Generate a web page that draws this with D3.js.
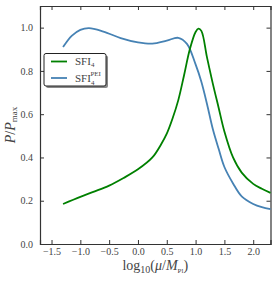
<!DOCTYPE html>
<html>
<head>
<meta charset="utf-8">
<script src="https://cdn.jsdelivr.net/npm/d3@7"></script>
<style>
  body { margin: 0; background: #fff; }
  text { font-family: "Liberation Serif", "DejaVu Serif", serif; fill: #444; }
</style>
</head>
<body>
<div id="chart"></div>
<script>
// curve values
const sfiX = [-1.3, -1.0, -0.75, -0.5, -0.25, 0.0, 0.25, 0.4, 0.5, 0.6, 0.7, 0.8, 0.9, 1.0, 1.05, 1.1, 1.2, 1.3, 1.4, 1.5, 1.65, 1.8, 2.0, 2.15, 2.3];
const sfiY = [0.185, 0.218, 0.243, 0.27, 0.305, 0.345, 0.40, 0.46, 0.51, 0.58, 0.665, 0.78, 0.90, 0.98, 0.995, 0.985, 0.86, 0.74, 0.63, 0.52, 0.40, 0.33, 0.278, 0.255, 0.236];
const peiX = [-1.3, -1.15, -1.0, -0.85, -0.6, -0.3, 0.0, 0.25, 0.5, 0.7, 0.85, 1.0, 1.1, 1.2, 1.3, 1.4, 1.5, 1.65, 1.8, 2.0, 2.15, 2.3];
const peiY = [0.91, 0.962, 0.99, 0.998, 0.982, 0.952, 0.932, 0.926, 0.94, 0.953, 0.925, 0.83, 0.75, 0.645, 0.53, 0.44, 0.356, 0.28, 0.22, 0.185, 0.17, 0.161];
const xTicks = [-1.5, -1.0, -0.5, 0.0, 0.5, 1.0, 1.5, 2.0];
const yTicks = [0.0, 0.2, 0.4, 0.6, 0.8, 1.0];

const width = 277, height = 281;
const margin = {top: 6, right: 6.5, bottom: 37, left: 40};

const svg = d3.select('#chart').append('svg')
    .attr('width', width).attr('height', height);

const x = d3.scaleLinear().domain([-1.7, 2.3]).range([margin.left, width - margin.right]);
const y = d3.scaleLinear().domain([0, 1.1]).range([height - margin.bottom, margin.top]);

// ticks pointing inward on all four sides
const fmt = d => d < 0 ? '\u2212' + Math.abs(d).toFixed(1) : d.toFixed(1);
svg.append('g').attr('transform', `translate(0,${y(0)})`)
    .call(d3.axisBottom(x).tickValues(xTicks).tickSize(-4).tickPadding(4).tickFormat(fmt));
svg.append('g').attr('transform', `translate(0,${margin.top})`)
    .call(d3.axisTop(x).tickValues(xTicks).tickSize(-4).tickFormat(''));
svg.append('g').attr('transform', `translate(${margin.left},0)`)
    .call(d3.axisLeft(y).tickValues(yTicks).tickSize(-4).tickPadding(7).tickFormat(d => d.toFixed(1)));
svg.append('g').attr('transform', `translate(${width - margin.right},0)`)
    .call(d3.axisRight(y).tickValues(yTicks).tickSize(-4).tickFormat(''));

svg.selectAll('.domain').attr('stroke', '#333').attr('stroke-width', 1.2);
svg.selectAll('.tick line').attr('stroke', '#333');
svg.selectAll('.tick text').attr('font-size', 10).attr('fill', '#555')
    .attr('font-family', '"Liberation Serif", serif');

const line = d3.line().x(d => x(d[0])).y(d => y(d[1])).curve(d3.curveCatmullRom);

svg.append('path').datum(d3.zip(peiX, peiY))
    .attr('d', line).attr('fill', 'none').attr('stroke', '#4682b4').attr('stroke-width', 1.8);
svg.append('path').datum(d3.zip(sfiX, sfiY))
    .attr('d', line).attr('fill', 'none').attr('stroke', '#008000').attr('stroke-width', 1.8);

// axis labels
svg.append('text').attr('x', x(0.3)).attr('y', 270).attr('text-anchor', 'middle')
    .attr('font-size', 14).attr('fill', '#333')
    .html('log<tspan font-size="10" dy="3">10</tspan><tspan dy="-3">(</tspan><tspan font-style="italic">μ</tspan>/<tspan font-style="italic">M</tspan><tspan font-size="7" dy="3">Pl</tspan><tspan dy="-3">)</tspan>');

svg.append('text').attr('transform', `translate(15,${y(0.55)}) rotate(-90)`)
    .attr('text-anchor', 'middle').attr('font-size', 14).attr('fill', '#333')
    .html('<tspan font-style="italic">P</tspan>/<tspan font-style="italic">P</tspan><tspan font-size="9" dy="2">max</tspan>');

// legend
const lg = svg.append('g');
lg.append('rect').attr('x', 46).attr('y', 55.5).attr('width', 62).attr('height', 32.5)
    .attr('fill', '#888').attr('rx', 2);
lg.append('rect').attr('x', 44).attr('y', 53.5).attr('width', 62).attr('height', 32.5)
    .attr('fill', '#fff').attr('stroke', '#222').attr('stroke-width', 1).attr('rx', 2);
const items = [
  {color: '#008000', label: 'SFI<tspan font-size="7" dy="2">4</tspan>', yy: 61.5},
  {color: '#4682b4', label: 'SFI<tspan font-size="7" dy="3">4</tspan><tspan font-size="7" dx="-4" dy="-9">PEI</tspan>', yy: 78}
];
items.forEach(it => {
  lg.append('line').attr('x1', 51).attr('x2', 67).attr('y1', it.yy).attr('y2', it.yy)
      .attr('stroke', it.color).attr('stroke-width', 1.8);
  lg.append('text').attr('x', 75).attr('y', it.yy + 3.5).attr('font-size', 11).attr('fill', '#333')
      .html(it.label);
});
</script>
</body>
</html>
